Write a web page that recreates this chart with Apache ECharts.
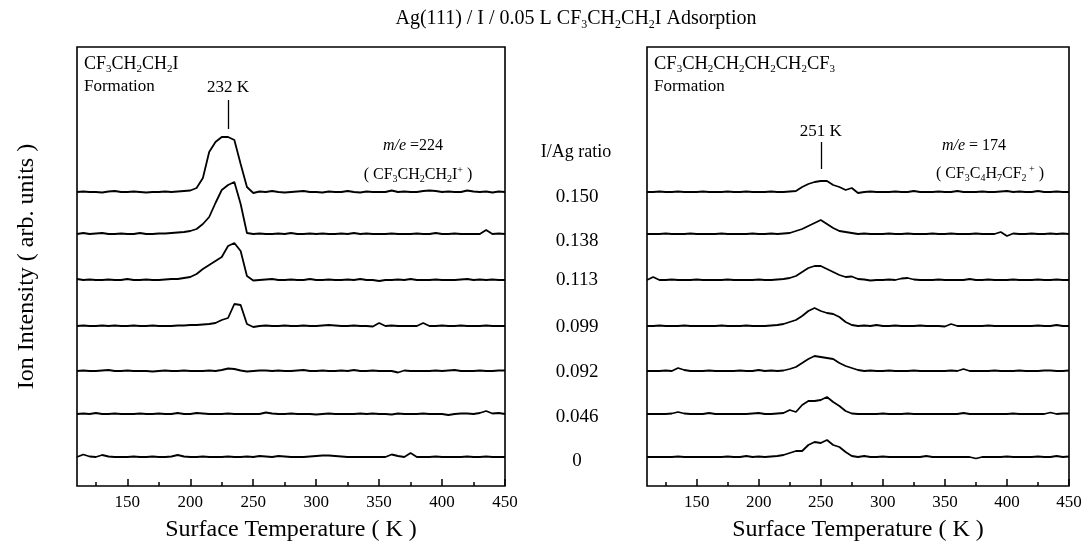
<!DOCTYPE html>
<html><head><meta charset="utf-8">
<script src="https://cdn.jsdelivr.net/npm/echarts@6/dist/echarts.min.js"></script>
<style>html,body{margin:0;padding:0;background:#fff}#c{width:1083px;height:546px}</style>
</head><body><div id="c"></div>
<script>
// ---- data ----
const temps = [110,115,120,125,130,135,140,145,150,155,160,165,170,175,180,185,190,195,200,205,210,215,220,225,230,235,240,245,250,255,260,265,270,275,280,285,290,295,300,305,310,315,320,325,330,335,340,345,350,355,360,365,370,375,380,385,390,395,400,405,410,415,420,425,430,435,440,445,450];
const ratios = ['0.150','0.138','0.113','0.099','0.092','0.046','0'];
const offsets = [294, 252, 206, 160, 115, 72, 29]; // vertical offsets of stacked traces (arb. units)
const majorTicks = [150,200,250,300,350,400,450];
const minorTicks = [125,175,225,275,325,375,425];
const peakTemps = [230, 250];
const peakLabels = ['232 K', '251 K'];

// m/e = 224 (CF3CH2CH2I+) traces, top to bottom
const left150 = [0,0.5,0,0,-0.5,0.5,1,0,0,0.5,0,-0.5,0,0,0.5,0,0.5,1,
  1.5,4,14,40,50,55,55,52,28,5,-1,0.5,
  0,1,0,-0.5,0,0.5,1,0,0,-0.5,0.5,0,0,1,0,-0.5,0.5,0,0,0,1.5,0,0.5,0,0,1,1.5,1,0,0.5,0,0,1.5,0.5,0,0.5,-0.5,0.5,0];
const left138 = [0,1,0,0.5,1,0,0,0.5,0,0,1,0,0,0.5,0.5,1,1.5,
  2,3,5,10,17,31,44,49,52,30,1,0,
  0.5,0,0,0.5,0,1,0,0,0.5,0,0.5,0,0,0.5,0,1,0,0.5,0,0,0,0.5,0,0,0,0.5,0,0,1,0,0,0.5,0,0,0,0,4,0,0.5,0];
const left113 = [1,0,0.5,0,0,0.5,0,0,1,0,0,0.5,0,0,0.5,1,1,
  2,3,6,11,15,19,23,34,37,29,4,-0.5,
  0,0.5,1,0,0,0.5,0,0,1,0,0,0.5,0,0,0.5,0,1,0,0,-1,0,0,0.5,0,1,0,0,0,0.5,0,0,0,0.5,1,0,0.5,0,0.5,0,0];
const left099 = [0,0.5,0,0,0.5,0,0.5,0,0,0.5,0,0,0.5,0,0,0,0.5,0.5,1,
  1,1.5,2,3,6,8,22,21,2,-1,
  0,0.5,0,0,0.5,0,0,0.5,0,0,0.5,1,0.5,0,0,0.5,0,0,-0.5,3,0,0.5,0,0,0,0,3,0,0,0.5,0,0,0.5,0,0,0,0.5,0,0,0];
const left092 = [0,0.5,0,0,0.5,1,0,0,0.5,0,0,0,-0.5,0,0.5,0,0,0.5,0,0,0,0.5,0,1,
  2.5,2,0.5,-0.5,0,0.5,0.5,
  0,0.5,0,0,0.5,1,0,0,0.5,0,0,0.5,0,1,0,0,0.5,0,0,0,-1.5,0.5,0,0,0,0,0.5,0,0.5,1,0,0,0,0.5,0,0,0.5,0.5];
const left046 = [0,0.5,0,1,0,0,0.5,0,0,0,0.5,0,0,0.5,0,0,1,0,0,1,0.5,0,0,0,0.5,0,0,0,0,0,
  1.5,0.5,0,0,0.5,0,0,0,-0.5,0,0.5,0,0,0,0,0.5,0,0.5,0,0,-0.5,0.5,0,0,0,0.5,0,0,0,-1,0,0.5,0.5,0,1,3,0.5,1,0];
const left000 = [0,2.5,0.5,0,2,0.5,0,0,0,0.5,0,0,0.5,0,0,0.5,2,0.5,0,0,0.5,0,0,0,0.5,0,0,0.5,0,1,
  0.5,0,1,0.5,0,0,0,0.5,1,1.5,1.5,1,0.5,0,0,0,0,0,0,0,2.5,1,0,4,0,0,0,0.5,0,0,0,0,0.5,0,0,0.5,0,0,0];

// m/e = 174 (CF3C4H7CF2+) traces, top to bottom
const right150 = [0,0,0.5,0,0,0.5,0,0,0,0.5,0,0,0,0.5,0,0,0.5,0,0,0,0.5,0,0,
  0.5,1,5,8,10,11,11,7,5,2,4,-1,0,
  0.5,0,0,0,0.5,0,0,1,0,0,0,0.5,0,0,1,0,0,0,0.5,0,0,0.5,1,0,0.5,0,0,1,0,0,0.5,0,0];
const right138 = [0,0,0,0.5,0,0,0,0.5,0,0,0,0,0.5,0,0,0,0,0.5,0,0,0.5,0,
  0.5,1,3,5,8,11,14,10,6,3,2,1,0,
  0.5,0,0,0,0.5,0,0,0.5,0,0,0,0.5,0,0,0.5,0,0,0,0.5,0,0,0,2,-2,0.5,0,0,0.5,0,0,0.5,0,0.5,0];
const right113 = [0,3,0,0,0.5,0,0,0,0.5,0,0,0,0,0.5,0,0,0,0,0.5,0,0,
  0.5,1,2,4,8,12,14,14,11,8,5,3,3.5,1,0.5,-0.5,
  0,0,0.5,0,1.5,2,0.5,0,0,0,0.5,0,0,0,0,1,0,0,0.5,0,0,0,0.5,0,0,0,0.5,0,0,0.5,0,0];
const right099 = [0,0,0.5,0,0,0,0.5,0,0,0,0,0,0.5,0,0,0,0.5,0,0,0,0.5,
  1,2,4,6,10,15,18,15,13,12,9,4,1,0,
  0.5,0,1,0,0,0.5,0,0,0,0.5,0,0,0,-0.5,2,0,0,0,0,0,0.5,0,0,0,0,0,0,0,0.5,0,0,1,0,0];
const right092 = [0,0,0,0.5,0,3,1,0,0,0,0.5,0,0,0,0,0.5,0,0,1,0,0.5,0,
  0.5,2,4,8,12,15,14,13,12,8,5,3,1,0,
  0.5,0,0,0.5,0,0,0,0.5,0,0,0,0,0,0.5,0,2,0,0,0,0,0.5,0,0,0,0.5,0,0,0,0.5,0.5,0,0,0.5];
const right046 = [0,0,0,0,0.5,2,0.5,0,0,0,1,0,0,0,0,0,0,0.5,1,0,0,0.5,
  1,4,2,9,13,13,14,17,12,8,3,0.5,0,
  0,0,0,0.5,0,0,0,0.5,0,0,0,0,0,0,0,0,1,0,0,0,0,0,0,0,0.5,0,0,0,0,0,1.5,0,0.5,0.5];
const right000 = [0,0,0,0,0,0.5,0,0,0,0,0,0,0,0.5,0,0,1,0,0.5,0,0.5,
  1,2,4,6,6,12,15,14,17,12,10,5,1,0,
  1,0,0,0.5,0,0,0,0,0,0,1,0,0,0,0,0,0,0,-1.5,0,0,0,0,0.5,0,0,0,0,0.5,0,0,1,0,0.5];

const leftTraces = [left150, left138, left113, left099, left092, left046, left000];
const rightTraces = [right150, right138, right113, right099, right092, right046, right000];

// ---- chart ----
const SERIF = 'Liberation Serif';
function richFor(size) {
  const L = Math.round(size * 1.2);
  const d = Math.round(size * 0.3);
  return {
    s: {fontFamily: SERIF, fontSize: Math.round(size * 0.62), lineHeight: L - 2 * d, verticalAlign: 'bottom', fill: '#000', color: '#000'},
    u: {fontFamily: SERIF, fontSize: Math.round(size * 0.6), lineHeight: L - 2 * d, verticalAlign: 'top', fill: '#000', color: '#000'},
    i: {fontFamily: SERIF, fontSize: size, fontStyle: 'italic', lineHeight: L, fill: '#000', color: '#000'}
  };
}
function txt(x, y, text, size, align) {
  return {
    type: 'text', x: x, y: y, silent: true,
    style: {
      text: text, fontFamily: SERIF, fontSize: size, fill: '#000',
      lineHeight: Math.round(size * 1.2),
      align: align || 'center', verticalAlign: 'middle',
      textAlign: align || 'center', textVerticalAlign: 'middle',
      rich: richFor(size)
    }
  };
}

const grids = [
  {left: 77, top: 47, width: 428, height: 439},
  {left: 647, top: 47, width: 422, height: 439}
];

const xAxes = [], yAxes = [], series = [];
grids.forEach((g, gi) => {
  xAxes.push({
    gridIndex: gi, type: 'value', min: 110, max: 450,
    name: 'Surface Temperature ( K )', nameLocation: 'middle', nameGap: 32,
    nameTextStyle: {fontFamily: SERIF, fontSize: 24, color: '#000'},
    axisLine: {show: false},
    axisTick: {show: true, inside: true, length: 7, lineStyle: {color: '#000', width: 1.5}, customValues: majorTicks},
    axisLabel: {show: true, margin: 8, fontFamily: SERIF, fontSize: 17, color: '#000', customValues: majorTicks},
    splitLine: {show: false}
  });
  xAxes.push({
    gridIndex: gi, type: 'value', min: 110, max: 450, position: 'bottom',
    axisLine: {show: false},
    axisTick: {show: true, inside: true, length: 4, lineStyle: {color: '#000', width: 1.5}, customValues: minorTicks},
    axisLabel: {show: false},
    splitLine: {show: false}
  });
  yAxes.push({
    gridIndex: gi, type: 'value', min: 0, max: 439,
    name: gi === 0 ? 'Ion Intensity ( arb. units )' : '',
    nameLocation: 'middle', nameGap: 38, nameRotate: 90,
    nameTextStyle: {fontFamily: SERIF, fontSize: 24, color: '#000'},
    axisLine: {show: false}, axisTick: {show: false}, axisLabel: {show: false}, splitLine: {show: false}
  });
});

[leftTraces, rightTraces].forEach((traces, gi) => {
  traces.forEach((vals, i) => {
    const s = {
      type: 'line', xAxisIndex: gi * 2, yAxisIndex: gi,
      data: temps.map((t, j) => [t, offsets[i] + vals[j]]),
      showSymbol: false, symbol: 'none', smooth: false, silent: true,
      lineStyle: {color: '#000', width: 1.8}, itemStyle: {color: '#000'},
      animation: false
    };
    if (i === 0) {
      s.markLine = {
        silent: true, symbol: 'none', animation: false,
        lineStyle: {color: '#000', width: 1.3, type: 'solid'},
        label: {show: true, position: 'end', distance: gi === 0 ? 4 : 2, formatter: peakLabels[gi],
          fontFamily: SERIF, fontSize: 17, color: '#000'},
        data: [[{coord: [peakTemps[gi], gi === 0 ? 357 : 317]}, {coord: [peakTemps[gi], gi === 0 ? 386 : 344]}]]
      };
    }
    series.push(s);
  });
});

const graphics = [
  txt(576, 19, 'Ag(111) / I / 0.05 L CF{s|3}CH{s|2}CH{s|2}I Adsorption', 20),
  txt(84, 64, 'CF{s|3}CH{s|2}CH{s|2}I', 18, 'left'),
  txt(84, 87, 'Formation', 17, 'left'),
  txt(413, 146, '{i|m/e} =224', 16),
  txt(418, 175, '( CF{s|3}CH{s|2}CH{s|2}I{u|+} )', 16),
  txt(654, 64, 'CF{s|3}CH{s|2}CH{s|2}CH{s|2}CH{s|2}CF{s|3}', 18.5, 'left'),
  txt(654, 87, 'Formation', 17, 'left'),
  txt(974, 146, '{i|m/e} = 174', 16),
  txt(990, 174, '( CF{s|3}C{s|4}H{s|7}CF{s|2}{u| +} )', 16),
  txt(576, 152, 'I/Ag ratio', 18)
];
const ratioY = [197, 241, 280, 327, 372, 417, 461];
ratios.forEach((r, i) => graphics.push(txt(577, ratioY[i], r, 19)));

const chart = echarts.init(document.getElementById('c'), null, {renderer: 'canvas'});
chart.setOption({
  backgroundColor: '#fff',
  animation: false,
  grid: grids.map(g => Object.assign({show: true, borderColor: '#000', borderWidth: 1.6, backgroundColor: 'transparent', containLabel: false, outerBoundsMode: 'none'}, g)),
  xAxis: xAxes,
  yAxis: yAxes,
  series: series,
  graphic: graphics
});
</script>
</body></html>
